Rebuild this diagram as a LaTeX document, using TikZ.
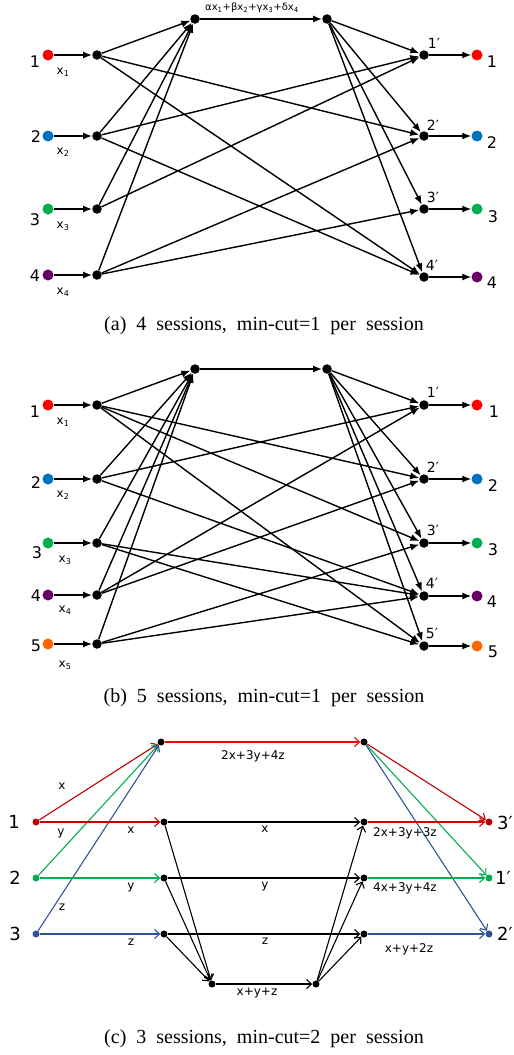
\documentclass[tikz,border=0pt]{standalone}
\usepackage{fontspec}
\setmainfont{Liberation Serif}
\newfontfamily\lab{DejaVu Sans}
\usetikzlibrary{arrows.meta}
\definecolor{cRed}{HTML}{FF0000}
\definecolor{cBlue}{HTML}{0070C0}
\definecolor{cGreen}{HTML}{00B050}
\definecolor{cPurple}{HTML}{660066}
\definecolor{cOrange}{HTML}{FF6600}
\definecolor{dRed}{HTML}{C00000}
\definecolor{dGreen}{HTML}{00B050}
\definecolor{dBlue}{HTML}{2F5496}
\newcommand{\capline}[1]{\spaceskip=10pt\relax #1}
\begin{document}
\begin{tikzpicture}[x=1pt,y=-1pt,
  vtx/.style={circle,fill=black,inner sep=0pt,minimum size=9.5pt},
  term/.style={circle,fill=#1,inner sep=0pt,minimum size=11pt},
  arr/.style={-{Latex[length=9pt,width=7pt]},line width=1.4pt},
  num/.style={font=\lab\fontsize{16}{16}\selectfont},
  sub/.style={font=\lab\fontsize{12}{12}\selectfont},
  sinklab/.style={font=\lab\fontsize{14}{14}\selectfont},
  coef/.style={font=\lab\fontsize{10}{10}\selectfont},
  captxt/.style={font=\fontsize{20}{20}\selectfont},
  vc/.style={circle,fill=black,inner sep=0pt,minimum size=7pt},
  tc/.style={circle,fill=#1,inner sep=0pt,minimum size=7pt},
  ac/.style={-{Straight Barb[length=5pt,width=9pt]},line width=1.1pt},
  numc/.style={font=\lab\fontsize{18}{18}\selectfont},
  lc/.style={font=\lab\fontsize{12}{12}\selectfont},
]
\useasboundingbox (0,0) rectangle (514,1055);

% ---------------- (a) four sessions ----------------
\node[vtx] (cA) at (195,19) {};
\node[vtx] (dA) at (327,19) {};
\foreach \i/\y/\c in {1/55/cRed,2/136/cBlue,3/209/cGreen,4/275/cPurple}{
  \node[term=\c] (sA\i) at (48,\y) {};
  \node[vtx] (mA\i) at (97,\y) {};
}
\foreach \i/\y/\c in {1/55/cRed,2/136/cBlue,3/209/cGreen,4/277/cPurple}{
  \node[vtx] (kA\i) at (424,\y) {};
  \node[term=\c] (tA\i) at (477,\y) {};
}
\node[num] at (35,62) {1};
\node[num] at (36,137) {2};
\node[num] at (35,220) {3};
\node[num] at (35,276) {4};
\node[sub] at (63,72) {x\textsubscript{1}};
\node[sub] at (63,152) {x\textsubscript{2}};
\node[sub] at (63,226) {x\textsubscript{3}};
\node[sub] at (63,292) {x\textsubscript{4}};
\node[sinklab] at (434,43) {1′};
\node[sinklab] at (433,125) {2′};
\node[sinklab] at (433,197) {3′};
\node[sinklab] at (432,265) {4′};
\node[num] at (492,62) {1};
\node[num] at (492,143) {2};
\node[num] at (493,217) {3};
\node[num] at (492,283) {4};
\node[coef] at (252,8) {αx\textsubscript{1}+βx\textsubscript{2}+γx\textsubscript{3}+δx\textsubscript{4}};

\foreach \i in {1,2,3,4}{
  \draw[arr] (sA\i) -- (mA\i);
  \draw[arr] (mA\i) -- (cA);
  \draw[arr] (dA) -- (kA\i);
  \draw[arr] (kA\i) -- (tA\i);
}
\draw[arr] (cA) -- (dA);
\draw[arr] (mA1) -- (kA2);
\draw[arr] (mA1) -- (kA4);
\draw[arr] (mA2) -- (kA1);
\draw[arr] (mA2) -- (kA4);
\draw[arr] (mA3) -- (kA1);
\draw[arr] (mA4) -- (kA2);
\draw[arr] (mA4) -- (kA3);

\node[captxt] (capA) at (264,326) {\capline{(a) 4 sessions, min-cut=1 per session}};

% ---------------- (b) five sessions ----------------
\node[vtx] (cB) at (195,369) {};
\node[vtx] (dB) at (327,369) {};
\foreach \i/\y/\c in {1/405/cRed,2/479/cBlue,3/543/cGreen,4/595/cPurple,5/644/cOrange}{
  \node[term=\c] (sB\i) at (48,\y) {};
  \node[vtx] (mB\i) at (97,\y) {};
}
\foreach \i/\y/\c in {1/405/cRed,2/479/cBlue,3/543/cGreen,4/596/cPurple,5/646/cOrange}{
  \node[vtx] (kB\i) at (424,\y) {};
  \node[term=\c] (tB\i) at (477,\y) {};
}
\node[num] at (35,412) {1};
\node[num] at (36,483) {2};
\node[num] at (37,553) {3};
\node[num] at (36,596) {4};
\node[num] at (36,646) {5};
\node[sub] at (63,422) {x\textsubscript{1}};
\node[sub] at (63,495) {x\textsubscript{2}};
\node[sub] at (65,560) {x\textsubscript{3}};
\node[sub] at (65,610) {x\textsubscript{4}};
\node[sub] at (65,665) {x\textsubscript{5}};
\node[sinklab] at (433,392) {1′};
\node[sinklab] at (433,467) {2′};
\node[sinklab] at (433,530) {3′};
\node[sinklab] at (432,583) {4′};
\node[sinklab] at (432,633) {5′};
\node[num] at (494,412) {1};
\node[num] at (493,486) {2};
\node[num] at (493,550) {3};
\node[num] at (492,602) {4};
\node[num] at (493,652) {5};

\foreach \i in {1,2,3,4,5}{
  \draw[arr] (sB\i) -- (mB\i);
  \draw[arr] (mB\i) -- (cB);
  \draw[arr] (dB) -- (kB\i);
  \draw[arr] (kB\i) -- (tB\i);
}
\draw[arr] (cB) -- (dB);
\foreach \a/\b in {1/2,1/3,1/5,2/1,2/4,3/4,3/5,4/1,4/2,5/3,5/4}{
  \draw[arr] (mB\a) -- (kB\b);
}

\node[captxt] (capB) at (264,698) {\capline{(b) 5 sessions, min-cut=1 per session}};

% ---------------- (c) three sessions, min-cut 2 ----------------
\node[tc=dRed] (sC1) at (36,822) {};
\node[tc=dGreen] (sC2) at (36,878) {};
\node[tc=dBlue] (sC3) at (36,934) {};
\node[vc] (cC) at (161,742) {};
\node[vc] (dC) at (364,742) {};
\node[vc] (lC1) at (164,822) {};
\node[vc] (lC2) at (164,878) {};
\node[vc] (lC3) at (164,934) {};
\node[vc] (rC1) at (364,822) {};
\node[vc] (rC2) at (364,878) {};
\node[vc] (rC3) at (364,934) {};
\node[vc] (bC) at (212,984) {};
\node[vc] (eC) at (316,984) {};
\node[tc=dRed] (kC3) at (489,822) {};
\node[tc=dGreen] (kC1) at (489,878) {};
\node[tc=dBlue] (kC2) at (489,934) {};

\node[numc] at (14,822) {1};
\node[numc] at (15,878) {2};
\node[numc] at (15,934) {3};
\node[numc] at (505,823) {3′};
\node[numc] at (503,878) {1′};
\node[numc] at (505,934) {2′};

\draw[ac,dRed] (sC1) -- (cC);
\draw[ac,dGreen] (sC2) -- (cC);
\draw[ac,dBlue] (sC3) -- (cC);
\draw[ac,dRed] (sC1) -- (lC1);
\draw[ac,dGreen] (sC2) -- (lC2);
\draw[ac,dBlue] (sC3) -- (lC3);
\draw[ac,cRed] (cC) -- (dC);
\draw[ac,dRed] (dC) -- (kC3);
\draw[ac,dGreen] (dC) -- (kC1);
\draw[ac,dBlue] (dC) -- (kC2);
\draw[ac,red!85!black] (rC1) -- (kC3);
\draw[ac,dGreen] (rC2) -- (kC1);
\draw[ac,dBlue] (rC3) -- (kC2);
\foreach \i in {1,2,3}{
  \draw[ac] (lC\i) -- (rC\i);
  \draw[ac] (lC\i) -- (bC);
  \draw[ac] (eC) -- (rC\i);
}
\draw[ac] (bC) -- (eC);

\node[lc] at (62,786) {x};
\node[lc] at (61,833) {y};
\node[lc] at (62,907) {z};
\node[lc] at (131,830) {x};
\node[lc] at (131,887) {y};
\node[lc] at (131,942) {z};
\node[lc] at (265,829) {x};
\node[lc] at (265,886) {y};
\node[lc] at (265,941) {z};
\node[lc] at (253,756) {2x+3y+4z};
\node[lc] at (405,833) {2x+3y+3z};
\node[lc] at (405,888) {4x+3y+4z};
\node[lc] at (409,949) {x+y+2z};
\node[lc] at (257,993) {x+y+z};

\node[captxt] (capC) at (264,1039) {\capline{(c) 3 sessions, min-cut=2 per session}};
\end{tikzpicture}
\end{document}
